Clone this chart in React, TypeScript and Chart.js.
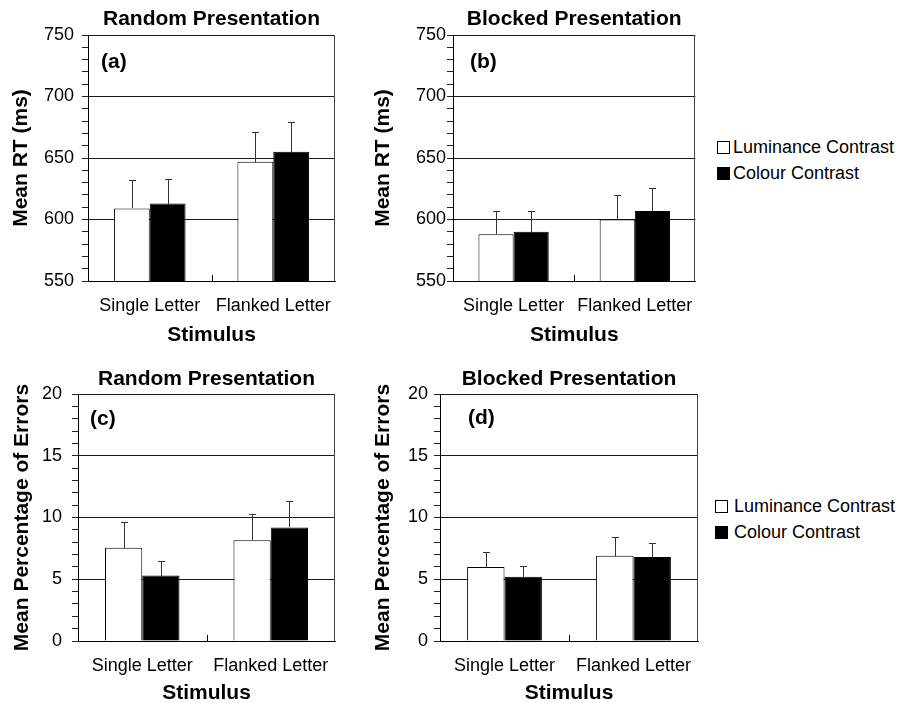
import React, { useEffect, useRef } from 'react';
import { Chart, registerables } from 'chart.js';

Chart.register(...registerables);

// ---------- data ----------
const categories = ['Single Letter', 'Flanked Letter'];
const seriesNames = ['Luminance Contrast', 'Colour Contrast'];
const seriesFills = ['#ffffff', '#000000'];

// (a) mean RT, random presentation
const rtRandomLum = [609, 647];
const rtRandomLumErr = [23, 24];
const rtRandomCol = [613, 655];
const rtRandomColErr = [20, 24];

// (b) mean RT, blocked presentation
const rtBlockedLum = [588, 600];
const rtBlockedLumErr = [19, 20];
const rtBlockedCol = [590, 607];
const rtBlockedColErr = [17, 19];

// (c) mean % errors, random presentation
const errRandomLum = [7.55, 8.15];
const errRandomLumErr = [2.1, 2.1];
const errRandomCol = [5.3, 9.2];
const errRandomColErr = [1.2, 2.1];

// (d) mean % errors, blocked presentation
const errBlockedLum = [6.0, 6.9];
const errBlockedLumErr = [1.2, 1.5];
const errBlockedCol = [5.2, 6.8];
const errBlockedColErr = [0.9, 1.1];

// axis ranges: [min, max, major step, minor step]
const rtAxis = [550, 750, 50, 10];
const errAxis = [0, 20, 5, 1];

const FONT = "'Liberation Sans', Arial, Helvetica, sans-serif";
Chart.defaults.font.family = FONT;
Chart.defaults.color = '#000';

const decorPlugin = {
  id: 'decor',
  afterDatasetsDraw(chart: any, _args: any, opts: any) {
    const { ctx, chartArea: a, scales } = chart;
    const y = scales.y;
    const x = scales.x;
    ctx.save();
    ctx.lineWidth = 1;
    // error bars
    chart.data.datasets.forEach((ds: any, di: number) => {
      const meta = chart.getDatasetMeta(di);
      meta.data.forEach((bar: any, i: number) => {
        const v = ds.data[i];
        const e = opts.errors[di][i];
        const yTop = Math.round(y.getPixelForValue(v + e)) + 0.5;
        const cx = Math.round(bar.x) + 0.5;
        ctx.strokeStyle = '#333';
        ctx.beginPath();
        ctx.moveTo(cx, Math.round(bar.y));
        ctx.lineTo(cx, yTop);
        ctx.moveTo(cx - 3.5, yTop);
        ctx.lineTo(cx + 3.5, yTop);
        ctx.stroke();
      });
    });
    // right frame
    ctx.strokeStyle = '#444';
    const rx = Math.round(a.right) - 0.5;
    ctx.beginPath();
    ctx.moveTo(rx, a.top);
    ctx.lineTo(rx, a.bottom);
    ctx.stroke();
    // category divider tick
    const dx = Math.round(x.getPixelForValue(0.5)) + 0.5;
    ctx.strokeStyle = '#000';
    ctx.beginPath();
    ctx.moveTo(dx, a.bottom);
    ctx.lineTo(dx, a.bottom - 6);
    ctx.stroke();
    // panel label
    ctx.fillStyle = '#000';
    ctx.font = `bold 21px ${FONT}`;
    ctx.textAlign = 'left';
    ctx.textBaseline = 'middle';
    ctx.fillText(opts.label, a.left + opts.labelDx, a.top + opts.labelDy);
    ctx.restore();
  },
};

type PanelCfg = {
  left: number; top: number; w: number; h: number;
  title: string; yTitle: string; axis: number[];
  lum: number[]; lumErr: number[]; col: number[]; colErr: number[];
  yW: number; padR: number; titleTop: number; titleBottom: number;
  yTitlePad: number; yTickPad: number; xH: number; xTickPad: number; xTitlePad: number;
  label: string; labelDx: number; labelDy: number;
};

const panels: PanelCfg[] = [
  {
    left: 0, top: 0, w: 360, h: 350,
    title: 'Random Presentation', yTitle: 'Mean RT (ms)', axis: rtAxis,
    lum: rtRandomLum, lumErr: rtRandomLumErr, col: rtRandomCol, colErr: rtRandomColErr,
    yW: 88, padR: 25, titleTop: 7, titleBottom: 2.8, yTitlePad: 8.4, yTickPad: 8,
    xH: 69, xTickPad: 14, xTitlePad: 2, label: '(a)', labelDx: 13, labelDy: 27,
  },
  {
    left: 360, top: 0, w: 350, h: 350,
    title: 'Blocked Presentation', yTitle: 'Mean RT (ms)', axis: rtAxis,
    lum: rtBlockedLum, lumErr: rtBlockedLumErr, col: rtBlockedCol, colErr: rtBlockedColErr,
    yW: 93, padR: 13, titleTop: 7, titleBottom: 2.8, yTitlePad: 10.4, yTickPad: 1,
    xH: 69, xTickPad: 14, xTitlePad: 2, label: '(b)', labelDx: 17, labelDy: 27,
  },
  {
    left: 0, top: 350, w: 360, h: 358,
    title: 'Random Presentation', yTitle: 'Mean Percentage of Errors', axis: errAxis,
    lum: errRandomLum, lumErr: errRandomLumErr, col: errRandomCol, colErr: errRandomColErr,
    yW: 78, padR: 25, titleTop: 16.4, titleBottom: 2.4, yTitlePad: 9.4, yTickPad: 10,
    xH: 67, xTickPad: 14, xTitlePad: 2.4, label: '(c)', labelDx: 12, labelDy: 25,
  },
  {
    left: 360, top: 350, w: 350, h: 358,
    title: 'Blocked Presentation', yTitle: 'Mean Percentage of Errors', axis: errAxis,
    lum: errBlockedLum, lumErr: errBlockedLumErr, col: errBlockedCol, colErr: errBlockedColErr,
    yW: 80, padR: 12, titleTop: 16.4, titleBottom: 2.4, yTitlePad: 10.4, yTickPad: 6,
    xH: 67, xTickPad: 14, xTitlePad: 2.4, label: '(d)', labelDx: 28, labelDy: 24,
  },
];

function buildConfig(p: PanelCfg): any {
  const [min, max, major, minor] = p.axis;
  const isMajor = (v: number) => Math.abs(v / major - Math.round(v / major)) < 1e-6;
  return {
    type: 'bar',
    data: {
      labels: categories,
      datasets: [
        {
          label: seriesNames[0], data: p.lum, backgroundColor: seriesFills[0],
          borderColor: '#000', borderWidth: 1, categoryPercentage: 0.58, barPercentage: 1,
        },
        {
          label: seriesNames[1], data: p.col, backgroundColor: seriesFills[1],
          borderColor: '#000', borderWidth: 1, categoryPercentage: 0.58, barPercentage: 1,
        },
      ],
    },
    options: {
      responsive: false,
      animation: false,
      layout: { padding: { left: 0, right: p.padR, top: 0, bottom: 0 } },
      plugins: {
        legend: { display: false },
        tooltip: { enabled: false },
        title: {
          display: true, text: p.title, fullSize: false, color: '#000',
          font: { size: 21, weight: 'bold', family: FONT },
          padding: { top: p.titleTop, bottom: p.titleBottom },
        },
        decor: {
          errors: [p.lumErr, p.colErr], label: p.label, labelDx: p.labelDx, labelDy: p.labelDy,
        },
      },
      scales: {
        x: {
          offset: true,
          afterFit: (s: any) => { s.height = p.xH; },
          grid: { display: false, drawTicks: false },
          border: { display: true, color: '#000', width: 1 },
          ticks: { padding: p.xTickPad, font: { size: 18 }, color: '#000', maxRotation: 0, autoSkip: false },
          title: {
            display: true, text: 'Stimulus', color: '#000',
            font: { size: 21, weight: 'bold' }, padding: { top: 0, bottom: p.xTitlePad },
          },
        },
        y: {
          min, max,
          afterFit: (s: any) => { s.width = p.yW; },
          ticks: {
            stepSize: minor, autoSkip: false, padding: p.yTickPad, font: { size: 18 }, color: '#000',
            callback: (v: any) => (isMajor(Number(v)) ? String(v) : ''),
          },
          grid: {
            color: (c: any) => (c.tick && isMajor(c.tick.value) ? '#1a1a1a' : 'rgba(0,0,0,0)'),
            tickColor: '#222', tickLength: 6, lineWidth: 1,
          },
          border: { display: true, color: '#000', width: 1 },
          title: {
            display: true, text: p.yTitle, color: '#000',
            font: { size: 21, weight: 'bold' }, padding: { top: p.yTitlePad, bottom: 0 },
          },
        },
      },
    },
    plugins: [decorPlugin],
  };
}

function Panel({ p }: { p: PanelCfg }) {
  const ref = useRef<HTMLCanvasElement>(null);
  useEffect(() => {
    const chart = new Chart(ref.current as HTMLCanvasElement, buildConfig(p));
    return () => chart.destroy();
  }, []);
  return (
    <canvas
      ref={ref}
      width={p.w}
      height={p.h}
      style={{ position: 'absolute', left: p.left, top: p.top, width: p.w, height: p.h, display: 'block' }}
    />
  );
}

function Legend({ left, top, textLeft }: { left: number; top: number; textLeft: number }) {
  return (
    <div style={{ position: 'absolute', left, top, fontFamily: FONT, fontSize: 18, color: '#000' }}>
      {seriesNames.map((name, i) => (
        <div key={name} style={{ position: 'relative', height: 26, whiteSpace: 'nowrap' }}>
          <div
            style={{
              position: 'absolute', left: 0, top: 6.5, width: 13, height: 13, boxSizing: 'border-box',
              background: seriesFills[i], border: '1px solid #000',
            }}
          />
          <div style={{ position: 'absolute', left: textLeft - left, top: 0, lineHeight: '26px' }}>{name}</div>
        </div>
      ))}
    </div>
  );
}

export default function App() {
  return (
    <div style={{ position: 'absolute', left: 0, top: 0, width: 902, height: 703, background: '#fff', overflow: 'hidden' }}>
      {panels.map((p) => (
        <Panel key={p.label} p={p} />
      ))}
      <Legend left={717} top={134} textLeft={733} />
      <Legend left={715} top={493} textLeft={734} />
    </div>
  );
}
